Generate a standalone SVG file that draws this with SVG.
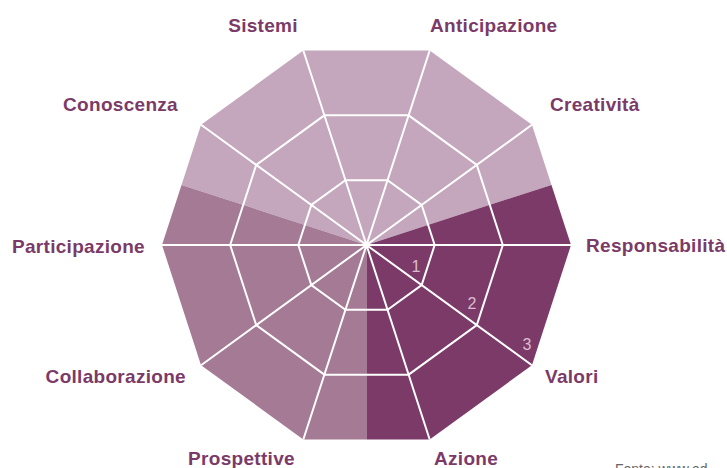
<svg xmlns="http://www.w3.org/2000/svg" width="727" height="468" viewBox="0 0 727 468">
<style>
.lbl{font-family:"Liberation Sans",Arial,sans-serif;font-weight:bold;font-size:19px;letter-spacing:0.3px;fill:#7b3a68}
.num{font-family:"Liberation Sans",Arial,sans-serif;font-size:16px;fill:#dcbdd2;text-anchor:middle}
.grid{fill:none;stroke:#ffffff;stroke-width:2;stroke-linejoin:miter}
.src{font-family:"Liberation Sans",Arial,sans-serif;font-size:14px;fill:#666666}
</style>
<rect width="727" height="468" fill="#ffffff"/>
<g id="sectors">
<polygon id="light" fill="#c4a7bc" points="366.5,245 551.47,184.9 531.94,124.8 429.69,50.51 303.31,50.51 201.06,124.8 181.53,184.9"/>
<polygon id="medium" fill="#a47a94" points="366.5,245 181.53,184.9 162,245 201.06,365.2 303.31,439.49 366.5,439.49"/>
<polygon id="dark" fill="#7b3a68" points="366.5,245 366.5,439.49 429.69,439.49 531.94,365.2 571,245 551.47,184.9"/>
</g>
<g id="connectors" class="grid">
<polygon points="434.67,245 421.65,204.93 387.57,180.17 345.43,180.17 311.35,204.93 298.33,245 311.35,285.07 345.43,309.83 387.57,309.83 421.65,285.07"/>
<polygon points="502.83,245 476.79,164.87 408.63,115.34 324.37,115.34 256.21,164.87 230.17,245 256.21,325.13 324.37,374.66 408.63,374.66 476.79,325.13"/>
<path d="M366.5,245L571,245M366.5,245L531.94,124.8M366.5,245L429.69,50.51M366.5,245L303.31,50.51M366.5,245L201.06,124.8M366.5,245L162,245M366.5,245L201.06,365.2M366.5,245L303.31,439.49M366.5,245L429.69,439.49M366.5,245L531.94,365.2"/>
</g>
<g id="scale">
<text class="num" x="416" y="272">1</text>
<text class="num" x="472" y="309">2</text>
<text class="num" x="527" y="350">3</text>
</g>
<g id="n-sistemi"><text class="lbl" x="263" y="32" text-anchor="middle">Sistemi</text></g>
<g id="n-anticipazione"><text class="lbl" x="430" y="32">Anticipazione</text></g>
<g id="n-creativita"><text class="lbl" x="550" y="111">Creatività</text></g>
<g id="n-responsabilita"><text class="lbl" x="586" y="252">Responsabilità</text></g>
<g id="n-valori"><text class="lbl" x="545" y="383">Valori</text></g>
<g id="n-azione"><text class="lbl" x="434" y="465">Azione</text></g>
<g id="n-prospettive"><text class="lbl" x="241.5" y="465" text-anchor="middle">Prospettive</text></g>
<g id="n-collaborazione"><text class="lbl" x="186" y="383" text-anchor="end">Collaborazione</text></g>
<g id="n-participazione"><text class="lbl" x="145" y="253" text-anchor="end">Participazione</text></g>
<g id="n-conoscenza"><text class="lbl" x="178" y="111" text-anchor="end">Conoscenza</text></g>
<text class="src" x="615" y="474">Fonte: www.ed</text>
</svg>
